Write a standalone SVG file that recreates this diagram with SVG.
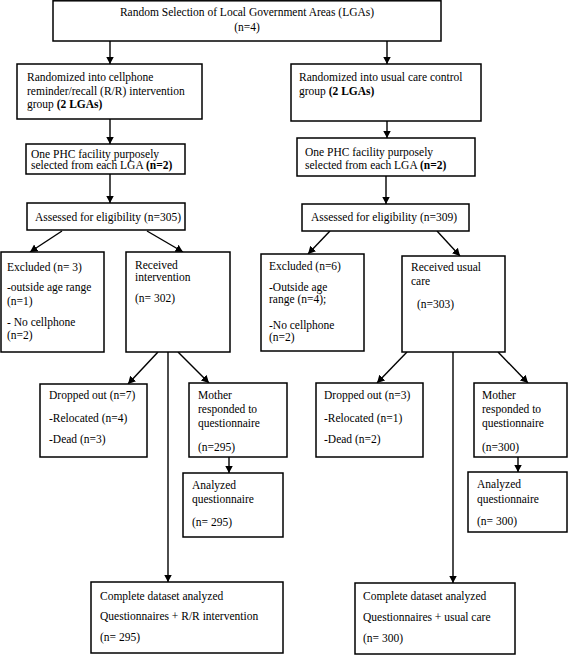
<svg xmlns="http://www.w3.org/2000/svg" width="568" height="655" viewBox="0 0 568 655">
<style>
.b{fill:#fff;stroke:#000;stroke-width:1.5}
text{font-family:"Liberation Serif","Times New Roman",serif;font-size:11.5px;fill:#000}
.c{stroke:#000;stroke-width:1.4;fill:none}
.a{marker-end:url(#ah)}
</style>
<defs>
<marker id="ah" markerUnits="userSpaceOnUse" markerWidth="9" markerHeight="9" refX="7.5" refY="4" orient="auto">
<path d="M0,0 L7.5,4 L0,8 z" fill="#000"/>
</marker>
</defs>
<rect width="568" height="655" fill="#fff"/>
<g id="connectors">
<line class="c a" x1="110" y1="41" x2="110" y2="64"/>
<line class="c a" x1="387" y1="41" x2="387" y2="64"/>
<line class="c a" x1="110" y1="119" x2="110" y2="144"/>
<line class="c a" x1="110" y1="174" x2="110" y2="203"/>
<line class="c a" x1="387" y1="121" x2="387" y2="138"/>
<line class="c a" x1="386" y1="176" x2="386" y2="204"/>
<line class="c a" x1="62" y1="231" x2="30" y2="252"/>
<line class="c a" x1="147" y1="231" x2="183" y2="252"/>
<line class="c a" x1="330" y1="231" x2="308" y2="254"/>
<line class="c a" x1="437" y1="231" x2="460" y2="256"/>
<line class="c a" x1="158" y1="352" x2="128" y2="384"/>
<line class="c a" x1="178" y1="352" x2="209" y2="383"/>
<line class="c a" x1="168" y1="352" x2="168" y2="582"/>
<line class="c a" x1="229" y1="457" x2="229" y2="473"/>
<line class="c a" x1="407" y1="352" x2="377" y2="383"/>
<line class="c a" x1="498" y1="352" x2="528" y2="383"/>
<line class="c a" x1="453" y1="352" x2="453" y2="583"/>
<line class="c a" x1="518" y1="457" x2="518" y2="472"/>
</g>
<g id="n_top">
<rect class="b" x="53" y="0.8" width="388" height="40.2"/>
<text x="247" y="16" text-anchor="middle">Random Selection of Local Government Areas (LGAs)</text>
<text x="247" y="31" text-anchor="middle">(n=4)</text>
</g>
<g id="n_rand_rr">
<rect class="b" x="17" y="64" width="185" height="55"/>
<text x="27" y="81">Randomized into cellphone</text>
<text x="27" y="95">reminder/recall (R/R) intervention</text>
<text x="27" y="108">group <tspan font-weight="bold">(2 LGAs)</tspan></text>
</g>
<g id="n_rand_uc">
<rect class="b" x="291" y="64" width="190" height="57"/>
<text x="299" y="81">Randomized into usual care control</text>
<text x="299" y="95">group <tspan font-weight="bold">(2 LGAs)</tspan></text>
</g>
<g id="n_phc_l">
<rect class="b" x="26" y="144" width="159" height="30"/>
<text x="31" y="158">One PHC facility purposely</text>
<text x="31" y="169">selected from each LGA <tspan font-weight="bold">(n=2)</tspan></text>
</g>
<g id="n_phc_r">
<rect class="b" x="297" y="138" width="178" height="38"/>
<text x="305" y="156">One PHC facility purposely</text>
<text x="305" y="169">selected from each LGA <tspan font-weight="bold">(n=2)</tspan></text>
</g>
<g id="n_assess_l">
<rect class="b" x="27" y="203" width="158" height="27"/>
<text x="35" y="221">Assessed for eligibility (n=305)</text>
</g>
<g id="n_assess_r">
<rect class="b" x="302" y="204" width="167" height="27"/>
<text x="311" y="221">Assessed for eligibility (n=309)</text>
</g>
<g id="n_excl_l">
<rect class="b" x="1" y="252" width="103" height="100"/>
<text x="7" y="271">Excluded (n= 3)</text>
<text x="7" y="291">-outside age range</text>
<text x="7" y="305">(n=1)</text>
<text x="7" y="326">- No cellphone</text>
<text x="7" y="339">(n=2)</text>
</g>
<g id="n_recv_l">
<rect class="b" x="126" y="252" width="104" height="100"/>
<text x="135" y="269">Received</text>
<text x="135" y="281">intervention</text>
<text x="135" y="302">(n= 302)</text>
</g>
<g id="n_excl_r">
<rect class="b" x="261" y="254" width="103" height="97"/>
<text x="269" y="270">Excluded (n=6)</text>
<text x="269" y="291">-Outside age</text>
<text x="269" y="303">range (n=4);</text>
<text x="269" y="329">-No cellphone</text>
<text x="269" y="341">(n=2)</text>
</g>
<g id="n_recv_r">
<rect class="b" x="402" y="256" width="103" height="96"/>
<text x="411" y="271">Received usual</text>
<text x="411" y="285">care</text>
<text x="417" y="308">(n=303)</text>
</g>
<g id="n_drop_l">
<rect class="b" x="40" y="384" width="107" height="73"/>
<text x="49" y="399">Dropped out (n=7)</text>
<text x="49" y="422">-Relocated (n=4)</text>
<text x="49" y="443">-Dead (n=3)</text>
</g>
<g id="n_moth_l">
<rect class="b" x="189" y="383" width="98" height="74"/>
<text x="198" y="399">Mother</text>
<text x="198" y="413">responded to</text>
<text x="198" y="427">questionnaire</text>
<text x="198" y="451">(n=295)</text>
</g>
<g id="n_anal_l">
<rect class="b" x="183" y="473" width="100" height="64"/>
<text x="192" y="489">Analyzed</text>
<text x="192" y="503">questionnaire</text>
<text x="192" y="526">(n= 295)</text>
</g>
<g id="n_drop_r">
<rect class="b" x="316" y="383" width="107" height="74"/>
<text x="324" y="399">Dropped out (n=3)</text>
<text x="324" y="422">-Relocated (n=1)</text>
<text x="324" y="443">-Dead (n=2)</text>
</g>
<g id="n_moth_r">
<rect class="b" x="474" y="383" width="93" height="74"/>
<text x="482" y="399">Mother</text>
<text x="482" y="413">responded to</text>
<text x="482" y="427">questionnaire</text>
<text x="482" y="451">(n=300)</text>
</g>
<g id="n_anal_r">
<rect class="b" x="468" y="472" width="99" height="60"/>
<text x="477" y="488">Analyzed</text>
<text x="477" y="503">questionnaire</text>
<text x="477" y="525">(n= 300)</text>
</g>
<g id="n_comp_l">
<rect class="b" x="91" y="582" width="192" height="71"/>
<text x="100" y="600">Complete dataset analyzed</text>
<text x="100" y="620">Questionnaires + R/R intervention</text>
<text x="100" y="641">(n= 295)</text>
</g>
<g id="n_comp_r">
<rect class="b" x="355" y="583" width="160" height="71"/>
<text x="363" y="600">Complete dataset analyzed</text>
<text x="363" y="621">Questionnaires + usual care</text>
<text x="363" y="642">(n= 300)</text>
</g>
</svg>
